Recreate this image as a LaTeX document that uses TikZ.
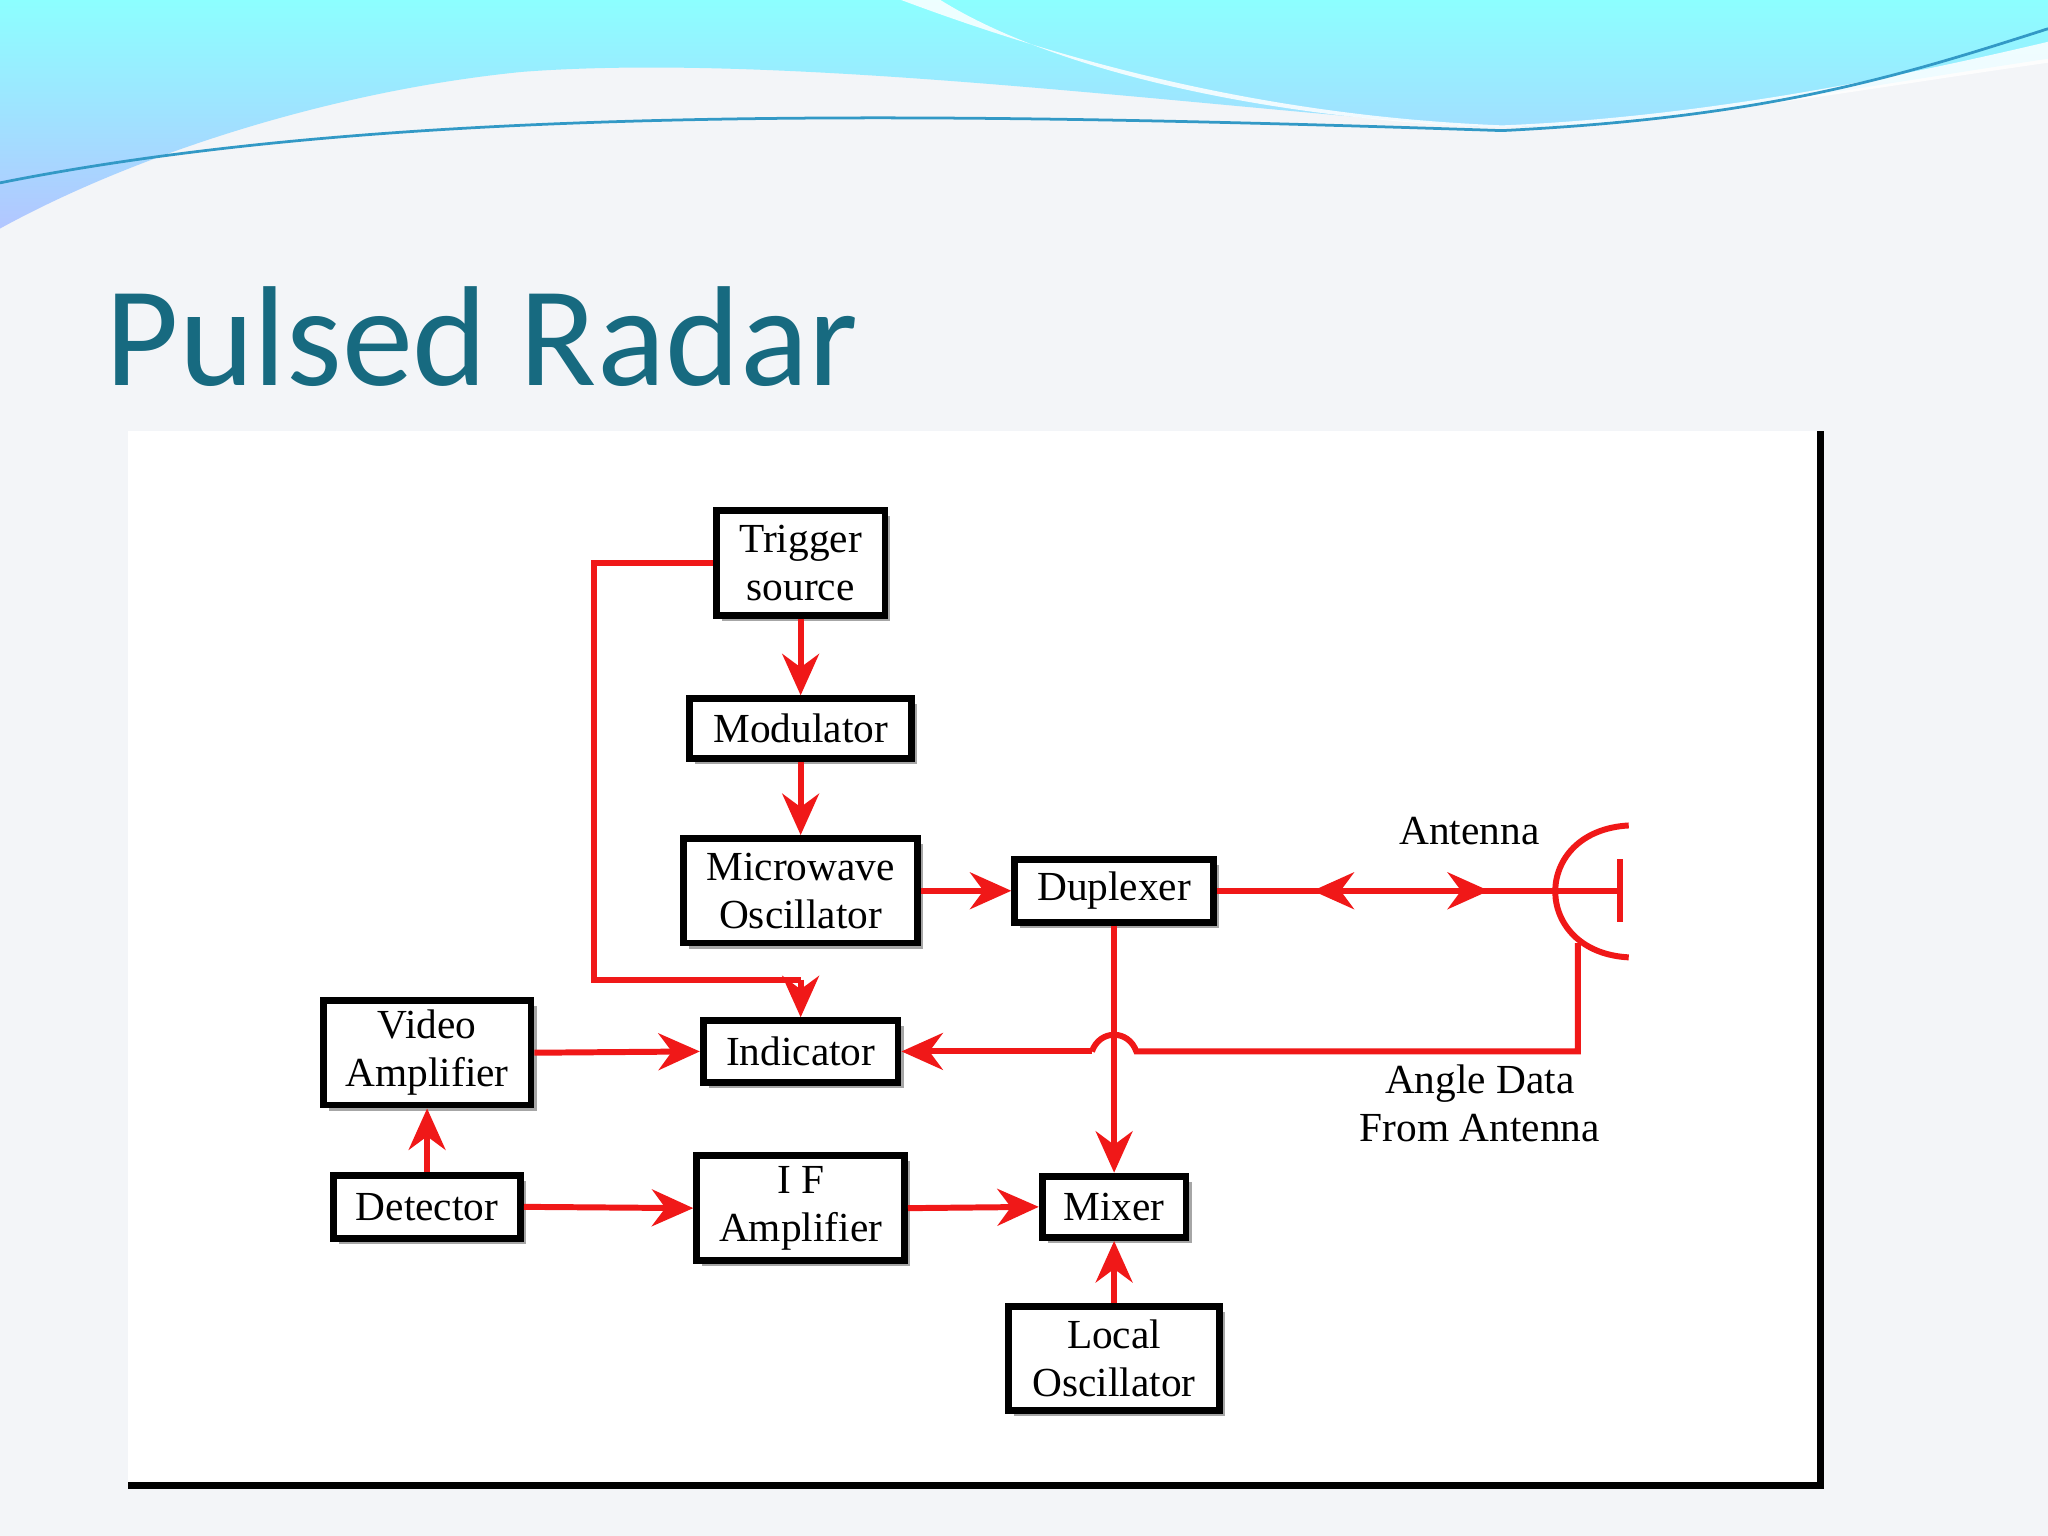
\documentclass[tikz,border=0pt]{standalone}
\usepackage{fontspec}
\setmainfont{Liberation Serif}
\newfontfamily\titlefont{Carlito}
\usetikzlibrary{arrows.meta,shadows}
\definecolor{bg}{HTML}{F3F5F8}
\definecolor{teal}{HTML}{176A80}
\definecolor{rd}{HTML}{F01818}
\begin{document}
\begin{tikzpicture}[x=0.01cm,y=-0.01cm,
  blk/.style={draw=black,line width=1.5pt,fill=white,align=center,font=\fontsize{9}{10.5}\selectfont,inner sep=0pt,drop shadow={shadow xshift=1.2pt,shadow yshift=-1.2pt,fill=gray!70,opacity=1}},
  wire/.style={draw=rd,line width=1.3pt},
  arr/.style={wire,-{Stealth[length=9pt,width=8pt]}},
  lbl/.style={font=\fontsize{9}{10.5}\selectfont,align=center}]
\useasboundingbox (0,0) rectangle (1568,1176);
\fill[bg] (0,0) rectangle (1568,1176);
% banner
\shade[top color=cyan!45!white,bottom color=cyan!25!blue!30!white,shading angle=0]
 (0,0) -- (1568,0) -- (1568,45) .. controls (1400,70) and (1250,100) .. (1130,97)
 .. controls (900,80) and (600,40) .. (400,55) .. controls (250,70) and (100,120) .. (0,175) -- cycle;
\fill[white,opacity=0.85] (690,0) .. controls (850,60) and (1000,90) .. (1150,96) .. controls (1300,90) and (1450,60) .. (1568,32) -- (1568,48) .. controls (1400,72) and (1250,100) .. (1130,97) .. controls (950,88) and (800,50) .. (720,0) -- cycle;
\draw[cyan!60!teal,line width=0.6pt] (0,140) .. controls (300,80) and (700,85) .. (1150,100) .. controls (1350,90) and (1450,60) .. (1568,22);
\node[anchor=base west,inner sep=0pt,text=teal,font=\titlefont\fontsize{31}{31}\selectfont] (title) at (80,295) {Pulsed Radar};
% frame
\fill[white] (98,330) rectangle (1394,1137);
\draw[line width=1.5pt] (1394,330) -- (1394,1137) -- (98,1137);
% blocks
\node[blk,minimum width=1.29cm,minimum height=0.80cm] (trig) at (613,431) {Trigger\\source};
\node[blk,minimum width=1.70cm,minimum height=0.46cm] (mod) at (613,558) {Modulator};
\node[blk,minimum width=1.79cm,minimum height=0.80cm] (mo) at (613,682) {Microwave\\Oscillator};
\node[blk,minimum width=1.52cm,minimum height=0.48cm] (dup) at (853,682) {Duplexer};
\node[blk,minimum width=1.49cm,minimum height=0.47cm] (ind) at (613,805) {Indicator};
\node[blk,minimum width=1.59cm,minimum height=0.80cm] (va) at (327,806) {Video\\Amplifier};
\node[blk,minimum width=1.43cm,minimum height=0.48cm] (det) at (327,924) {Detector};
\node[blk,minimum width=1.59cm,minimum height=0.80cm] (ifa) at (613,925) {I F\\Amplifier};
\node[blk,minimum width=1.10cm,minimum height=0.47cm] (mix) at (853,924) {Mixer};
\node[blk,minimum width=1.61cm,minimum height=0.80cm] (lo) at (853,1040) {Local\\Oscillator};
\node[lbl] (antl) at (1125,636) {Antenna};
\node[lbl] (angl) at (1133,845) {Angle Data\\From Antenna};
% antenna
\coordinate (af) at (1240,682);
\coordinate (ab) at (1208,722);
\draw[rd,line width=1.3pt] (1247,632) .. controls (1172,636) and (1172,729) .. (1247,733);
\draw[wire] (1240,658) -- (1240,706);
% connectors
\coordinate (t1) at (455,431); \coordinate (t2) at (455,750); \coordinate (t3) at (613,750);
\draw[wire] (trig.west) -- (t1) -- (t2) -- (t3);
\draw[arr] (t3) -- (ind.north);
\draw[arr] (trig.south) -- (mod.north);
\draw[arr] (mod.south) -- (mo.north);
\draw[arr] (mo.east) -- (dup.west);
\coordinate (a1) at (1005,682); \coordinate (a2) at (1140,682);
\draw[wire] (dup.east) -- (af);
\draw[arr] (1060,682) -- (a1);
\draw[arr] (1090,682) -- (a2);
\draw[arr] (dup.south) -- (mix.north);
\coordinate (b1) at (1208,805); \coordinate (h1) at (870,805); \coordinate (h2) at (836,805);
\draw[wire] (ab) -- (b1) -- (h1) .. controls (864,788) and (842,788) .. (h2);
\draw[arr] (h2) -- (ind.east);
\draw[arr] (va.east) -- (ind.west);
\draw[arr] (det.north) -- (va.south);
\draw[arr] (det.east) -- (ifa.west);
\draw[arr] (ifa.east) -- (mix.west);
\draw[arr] (lo.north) -- (mix.south);
\end{tikzpicture}
\end{document}
